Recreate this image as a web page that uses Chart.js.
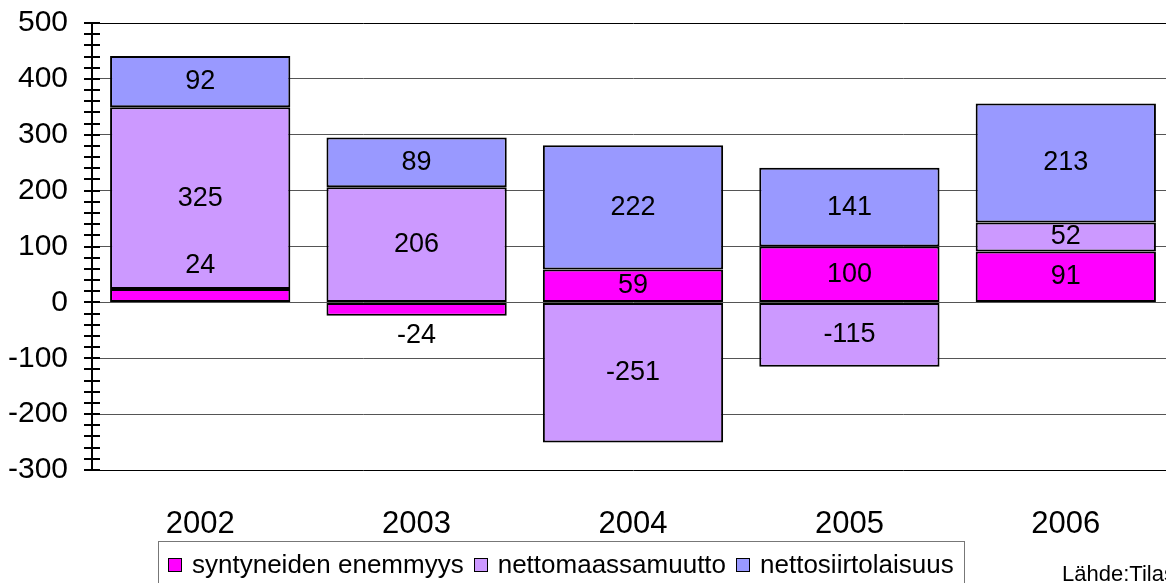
<!DOCTYPE html>
<html>
<head>
<meta charset="utf-8">
<script src="https://cdn.jsdelivr.net/npm/chart.js@4"></script>
<style>
  html, body { margin: 0; padding: 0; background: #fff; overflow: hidden; width: 1166px; height: 583px; }
  #wrap { position: absolute; left: 0; top: 0; width: 1180px; height: 583px; }
  #legend {
    position: absolute; left: 158px; top: 541px; width: 807px; height: 60px;
    border: 1px solid #777; box-sizing: border-box;
    font-family: "Liberation Sans", Arial, sans-serif; font-size: 26px; color: #000;
    display: flex; align-items: flex-start; padding: 7px 0 0 9px; white-space: nowrap;
  }
  #legend span.item { display: inline-flex; align-items: center; margin-right: 10px; }
  #legend span.box { width: 12px; height: 12px; border: 1.5px solid #000; margin-right: 10px; display: inline-block; }
  #source {
    position: absolute; left: 1062px; top: 561px;
    font-family: "Liberation Sans", Arial, sans-serif; font-size: 22px; color: #000; white-space: nowrap;
  }
</style>
</head>
<body>
<div id="wrap"><canvas id="myChart"></canvas></div>
<div id="legend"></div>
<div id="source">Lähde:Tilastokeskus</div>
<script>
const years = ['2002', '2003', '2004', '2005', '2006'];
const seriesNames = ['syntyneiden enemmyys', 'nettomaassamuutto', 'nettosiirtolaisuus'];
const syntyneet = [24, -24, 59, 100, 91];
const maassamuutto = [325, 206, -251, -115, 52];
const siirtolaisuus = [92, 89, 222, 141, 213];
const colors = ['#FF00FF', '#CC99FF', '#9999FF'];

const font = '"Liberation Sans", Arial, sans-serif';

// labels in the middle of each segment, small ones pushed outside
const segmentLabels = {
  id: 'segmentLabels',
  afterDatasetsDraw(chart) {
    const c = chart.ctx;
    c.save();
    c.font = '27px ' + font;
    c.fillStyle = '#000';
    c.textAlign = 'center';
    c.textBaseline = 'middle';
    chart.data.datasets.forEach((ds, i) => {
      chart.getDatasetMeta(i).data.forEach((bar, j) => {
        const v = ds.data[j];
        const top = Math.min(bar.y, bar.base);
        const bottom = Math.max(bar.y, bar.base);
        let y = (top + bottom) / 2;
        if (bottom - top < 20) y = v > 0 ? top - 23 : bottom + 20;
        c.fillText(String(v), bar.x, y);
      });
    });
    c.restore();
  }
};

// tick marks crossing the y axis
const crossTicks = {
  id: 'crossTicks',
  afterDraw(chart) {
    const s = chart.scales.y;
    const c = chart.ctx;
    c.save();
    c.strokeStyle = '#000';
    c.lineWidth = 2;
    s.ticks.forEach(t => {
      const y = Math.round(s.getPixelForValue(t.value));
      c.beginPath();
      c.moveTo(s.right - 8, y);
      c.lineTo(s.right + 8, y);
      c.stroke();
    });
    c.restore();
  }
};

const ctx = document.getElementById('myChart');

new Chart(ctx, {
  type: 'bar',
  data: {
    labels: years,
    datasets: [syntyneet, maassamuutto, siirtolaisuus].map((d, i) => ({
      label: seriesNames[i],
      data: d,
      backgroundColor: colors[i],
      borderColor: '#000',
      borderWidth: 2,
      borderSkipped: false,
      barPercentage: 0.833,
      categoryPercentage: 1
    }))
  },
  plugins: [segmentLabels, crossTicks],
  options: {
    responsive: true,
    maintainAspectRatio: false,
    animation: false,
    layout: { padding: { top: 23, right: 6, left: 0, bottom: 0 } },
    plugins: {
      legend: { display: false },
      tooltip: { enabled: false }
    },
    scales: {
      x: {
        stacked: true,
        grid: { display: false },
        border: { display: false },
        ticks: { color: '#000', font: { family: font, size: 31 }, padding: 28 },
        afterFit(scale) { scale.height = 113; }
      },
      y: {
        stacked: true,
        min: -300,
        max: 500,
        afterFit(scale) {
          scale.width = 92;
          scale.paddingTop = 0;
          scale.paddingBottom = 0;
        },
        ticks: {
          stepSize: 20,
          autoSkip: false,
          color: '#000',
          padding: 24,
          font: { family: font, size: 30 },
          callback: v => (v % 100 === 0 ? v : '')
        },
        grid: {
          drawTicks: false,
          color: c => {
            const v = c.tick.value;
            if (v === 500 || v === -300) return '#000';
            return v % 100 === 0 ? '#555' : 'rgba(0,0,0,0)';
          },
          lineWidth: 1
        },
        border: { color: '#000', width: 2 }
      }
    }
  }
});

const legend = document.getElementById('legend');
seriesNames.forEach((name, i) => {
  const item = document.createElement('span');
  item.className = 'item';
  const box = document.createElement('span');
  box.className = 'box';
  box.style.background = colors[i];
  item.appendChild(box);
  item.appendChild(document.createTextNode(name));
  legend.appendChild(item);
});
</script>
</body>
</html>
